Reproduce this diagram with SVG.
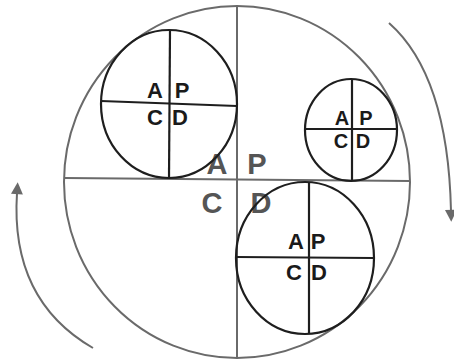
<svg xmlns="http://www.w3.org/2000/svg" width="454" height="361" viewBox="0 0 454 361">
<style>
.big{fill:none;stroke:#6a6a6a;stroke-width:2}
.sm{fill:none;stroke:#1e1e1e;stroke-width:2.2}
.arr{fill:none;stroke:#6a6a6a;stroke-width:2}
.t{font-family:"Liberation Sans",Arial,sans-serif;font-weight:bold;text-anchor:middle;fill:#1a1a1a}
.s{font-size:22px}
.s2{font-size:20px}
.c{font-size:29px;fill:#555}
</style>
<defs>
<marker id="ah" viewBox="0 0 10 10" refX="1" refY="5" markerWidth="15" markerHeight="12" orient="auto" markerUnits="userSpaceOnUse">
<path d="M0,0 L10,5 L0,10 z" fill="#6a6a6a"/>
</marker>
</defs>
<rect width="454" height="361" fill="#fff"/>
<g id="main">
<ellipse class="big" cx="237" cy="182" rx="173" ry="176"/>
<line class="big" x1="237" y1="6" x2="237" y2="358"/>
<line class="big" x1="65" y1="178" x2="410" y2="181"/>
<text class="t c" x="217" y="174">A</text>
<text class="t c" x="257" y="174">P</text>
<text class="t c" x="212" y="213">C</text>
<text class="t c" x="261" y="213">D</text>
</g>
<g id="topleft">
<ellipse class="sm" cx="169" cy="104" rx="68" ry="74"/>
<line class="sm" x1="170" y1="30" x2="169" y2="178"/>
<line class="sm" x1="101" y1="101" x2="237" y2="106"/>
<text class="t s" x="155" y="98">A</text>
<text class="t s" x="182" y="98">P</text>
<text class="t s" x="155" y="125">C</text>
<text class="t s" x="180" y="125">D</text>
</g>
<g id="right">
<ellipse class="sm" cx="351" cy="130" rx="46" ry="51"/>
<line class="sm" x1="352" y1="79" x2="352" y2="181"/>
<line class="sm" x1="305" y1="129" x2="397" y2="129"/>
<text class="t s2" x="342" y="125">A</text>
<text class="t s2" x="366" y="125">P</text>
<text class="t s2" x="341" y="148">C</text>
<text class="t s2" x="363" y="148">D</text>
</g>
<g id="bottom">
<ellipse class="sm" cx="305" cy="258" rx="69" ry="76"/>
<line class="sm" x1="309" y1="182" x2="309" y2="334"/>
<line class="sm" x1="236" y1="257" x2="373" y2="258"/>
<text class="t s" x="296" y="249">A</text>
<text class="t s" x="318" y="249">P</text>
<text class="t s" x="294" y="280">C</text>
<text class="t s" x="319" y="280">D</text>
</g>
<g id="connectors">
<path class="arr" d="M93,348 Q10,300 17,193" marker-end="url(#ah)"/>
<path class="arr" d="M389,23 Q448,75 451,211" marker-end="url(#ah)"/>
</g>
</svg>
